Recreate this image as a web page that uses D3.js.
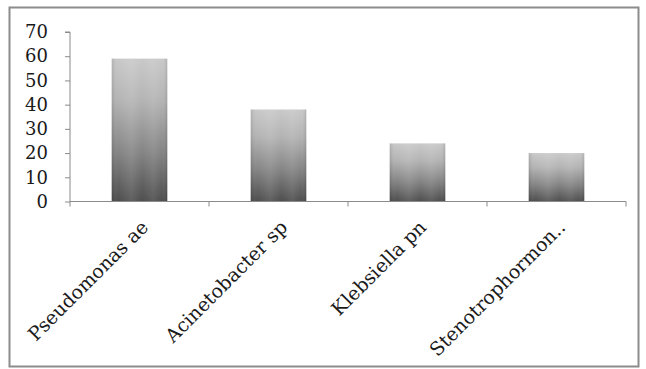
<!DOCTYPE html>
<html>
<head>
<meta charset="utf-8">
<script src="https://cdn.jsdelivr.net/npm/d3@7"></script>
<style>
  html, body { margin: 0; padding: 0; background: #fff; }
  svg { display: block; }
</style>
</head>
<body>
<svg id="chart" width="646" height="369"></svg>
<script>
// Isolates and their counts
const categories = ["Pseudomonas ae", "Acinetobacter sp", "Klebsiella pn", "Stenotrophormon.."];
const values = [59, 38, 24, 20];
const yTicks = [0, 10, 20, 30, 40, 50, 60, 70];

const svg = d3.select("#chart");
const W = 646, H = 369;
const plot = { left: 70, right: 626, top: 32, bottom: 201.5 };

// Outer frame
svg.append("rect")
  .attr("x", 9.5).attr("y", 7.5)
  .attr("width", 629).attr("height", 359)
  .attr("fill", "#fff")
  .attr("stroke", "#8c8c8c")
  .attr("stroke-width", 2);

const x = d3.scaleBand()
  .domain(categories)
  .range([plot.left, plot.right])
  .paddingInner(0.6)
  .paddingOuter(0.3);

const y = d3.scaleLinear()
  .domain([0, 70])
  .range([plot.bottom, plot.top]);

// Bar shading: light top fading to dark bottom, with softer edges
const defs = svg.append("defs");
const vg = defs.append("linearGradient")
  .attr("id", "barV").attr("x1", 0).attr("y1", 0).attr("x2", 0).attr("y2", 1);
[[0, "#c9c9c9"], [0.3, "#b3b3b3"], [0.65, "#858585"], [1, "#4e4e4e"]]
  .forEach(([o, c]) => vg.append("stop").attr("offset", o).attr("stop-color", c));
const hg = defs.append("linearGradient")
  .attr("id", "barH").attr("x1", 0).attr("y1", 0).attr("x2", 1).attr("y2", 0);
[[0, "#000", 0.12], [0.12, "#fff", 0.0], [0.35, "#fff", 0.1], [0.55, "#fff", 0.0],
 [0.75, "#fff", 0.08], [0.9, "#fff", 0.0], [1, "#000", 0.12]]
  .forEach(([o, c, a]) => hg.append("stop").attr("offset", o).attr("stop-color", c).attr("stop-opacity", a));
defs.append("filter").attr("id", "soft")
  .append("feGaussianBlur").attr("stdDeviation", 0.6);

const bars = svg.append("g").attr("filter", "url(#soft)");
categories.forEach((c, i) => {
  const bx = x(c), bw = x.bandwidth(), by = y(values[i]), bh = y(0) - y(values[i]);
  bars.append("rect").attr("x", bx).attr("y", by).attr("width", bw).attr("height", bh)
    .attr("fill", "url(#barV)");
  bars.append("rect").attr("x", bx).attr("y", by).attr("width", bw).attr("height", bh)
    .attr("fill", "url(#barH)");
});

// Y axis
const yAxis = d3.axisLeft(y).tickValues(yTicks).tickSize(5).tickPadding(17);
const gy = svg.append("g").attr("transform", `translate(${plot.left},0)`).call(yAxis);
gy.select(".domain").attr("stroke", "#8a8a8a").attr("stroke-width", 1)
  .attr("d", `M-5,${y(70)}H0V${y(0)}`);
gy.selectAll(".tick line").attr("stroke", "#8a8a8a");
gy.selectAll(".tick text")
  .attr("fill", "#1a1a1a")
  .style("font-family", "'DejaVu Serif', serif")
  .style("font-size", "18px");

// X axis baseline with ticks at category boundaries
const step = x.step();
const bounds = [x(categories[0]) + x.bandwidth() / 2 - step / 2]
  .concat(categories.map(c => x(c) + x.bandwidth() / 2 + step / 2));
const gx = svg.append("g");
gx.append("line")
  .attr("x1", plot.left).attr("x2", bounds[bounds.length - 1])
  .attr("y1", y(0)).attr("y2", y(0))
  .attr("stroke", "#8a8a8a").attr("stroke-width", 1);
gx.selectAll("line.tk").data(bounds).join("line").attr("class", "tk")
  .attr("x1", d => d).attr("x2", d => d)
  .attr("y1", y(0)).attr("y2", y(0) + 5)
  .attr("stroke", "#8a8a8a");

// Rotated category labels
gx.selectAll("text.cat").data(categories).join("text").attr("class", "cat")
  .attr("transform", d => `translate(${x(d) + x.bandwidth() / 2 + 10},${y(0) + 27}) rotate(-45)`)
  .attr("text-anchor", "end")
  .attr("fill", "#1a1a1a")
  .style("font-family", "'DejaVu Serif', serif")
  .style("font-size", "19px")
  .text(d => d);
</script>
</body>
</html>
